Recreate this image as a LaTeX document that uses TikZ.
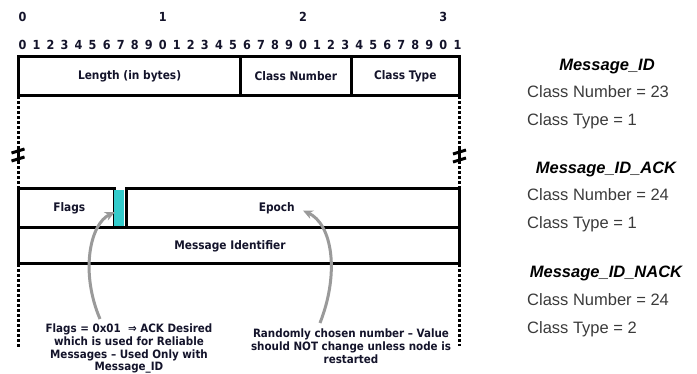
\documentclass[tikz,border=0pt]{standalone}
\usepackage{fontspec}
\setmainfont{Liberation Sans}
\newfontfamily\fieldfont{DejaVu Sans Condensed}
\usetikzlibrary{positioning,arrows.meta}

\definecolor{fieldink}{HTML}{14142B}
\definecolor{flagcyan}{HTML}{33CCCC}
\definecolor{notegray}{HTML}{9A9A9A}
\definecolor{sideink}{HTML}{3A3A3A}

\begin{document}
\begin{tikzpicture}[x=1pt,y=-1pt]
  \tikzset{FieldStyle/.style = {
    shape         = rectangle,
    draw          = black,
    line width    = 3pt,
    inner sep     = 0pt,
    outer sep     = 0pt
    }
  }
  \tikzset{FieldLabel/.style = {
    font          = \fieldfont\bfseries\fontsize{11.8}{13}\selectfont,
    text          = fieldink,
    inner sep     = 0pt
    }
  }
  \tikzset{BitStyle/.style = {
    font          = \fieldfont\bfseries\fontsize{12.5}{14}\selectfont,
    text          = fieldink,
    inner sep     = 0pt
    }
  }
  \tikzset{NoteStyle/.style = {
    font          = \fieldfont\bfseries\fontsize{11.5}{12.6}\selectfont,
    text          = fieldink,
    align         = center,
    inner sep     = 0pt,
    anchor        = north
    }
  }
  \tikzset{NoteArrow/.style = {
    draw          = notegray,
    line width    = 3pt,
    -{Stealth[length=10pt,width=9pt]}
    }
  }
  \tikzset{DotStyle/.style = {
    draw          = black,
    line width    = 3pt,
    dash pattern  = on 3pt off 2pt
    }
  }
  \tikzset{BreakStyle/.style = {
    draw          = black,
    line width    = 3pt
    }
  }
  \tikzset{SideHead/.style = {
    font          = \bfseries\itshape\fontsize{16.5}{18}\selectfont,
    anchor        = base,
    inner sep     = 0pt
    }
  }
  \tikzset{SideText/.style = {
    font          = \fontsize{16.5}{18}\selectfont,
    text          = sideink,
    anchor        = base west,
    inner sep     = 0pt
    }
  }

  \useasboundingbox (0,0) rectangle (697,374);

  % bit ruler
  \foreach \t in {0,1,2,3}
    \node[BitStyle] (dec\t) at ({22.5+140.3*\t},17) {\t};
  \foreach \i in {0,...,31} {
    \pgfmathtruncatemacro\d{mod(\i,10)}
    \node[BitStyle] (bit\i) at ({22.5+14.03*\i},45) {\d};
  }

  % header word
  \node[FieldStyle, minimum width=222.2pt, minimum height=39pt] (len)   at (129.6,76.5) {};
  \node[FieldStyle, minimum width=110.3pt, minimum height=39pt] (cnum)  at (295.85,76.5) {};
  \node[FieldStyle, minimum width=108.5pt, minimum height=39pt] (ctype) at (405.25,76.5) {};
  \node[FieldLabel] (lentxt)   at (len)   {Length (in bytes)};
  \node[FieldLabel] (cnumtxt)  at (cnum)  {Class Number};
  \node[FieldLabel] (ctypetxt) at (ctype) {Class Type};

  % message id body
  \node[FieldStyle, minimum width=95.5pt,  minimum height=39pt] (flags)   at (66.25,208.5) {};
  \node[FieldStyle, draw=none, fill=flagcyan, minimum width=10pt, minimum height=36pt] (flagbit) at (119,208.5) {};
  \node[FieldStyle, minimum width=333.5pt, minimum height=39pt] (epoch)   at (292.75,208.5) {};
  \node[FieldStyle, minimum width=441pt,   minimum height=36pt] (msgid)   at (239,246) {};
  \draw[line width=3pt] (flags.north west) -- (flags.south west);
  \node[FieldLabel, xshift=3pt]   (flagstxt) at (flags) {Flags};
  \node[FieldLabel, xshift=-16pt] (epochtxt) at (epoch) {Epoch};
  \node[FieldLabel, xshift=-9pt]  (msgidtxt) at (msgid) {Message Identifier};

  % dotted sides and breaks
  \draw[DotStyle] (len.south west) -- (flags.north west);
  \draw[DotStyle] (ctype.south east) -- (epoch.north east);
  \draw[DotStyle] (msgid.south west) -- ++(0,84);
  \draw[DotStyle] (msgid.south east) -- ++(0,82);
  \foreach \bx/\by in {18/155,459.5/156} {
    \draw[BreakStyle] (\bx,{\by-7}) -- (\bx,{\by+7});
    \draw[BreakStyle] ({\bx-6.5},{\by-2}) -- ({\bx+6.5},{\by-6});
    \draw[BreakStyle] ({\bx-6.5},{\by+6}) -- ({\bx+6.5},{\by+2});
  }

  % notes
  \node[NoteStyle] (flagnote)  at (129,324) {Flags = 0x01\ \ ⇒ ACK Desired\\which is used for Reliable\\Messages – Used Only with\\Message\_ID};
  \node[NoteStyle] (epochnote) at (351,329) {Randomly chosen number – Value\\should NOT change unless node is\\restarted};
  \draw[NoteArrow] ([shift={(-29pt,5pt)}]flagnote.north) .. controls (80,272) and (90,224) .. ([shift={(-4pt,-3.5pt)}]flagbit.center);
  \draw[NoteArrow] ([shift={(-31pt,6pt)}]epochnote.north) .. controls (340,272) and (332,224) .. ([shift={(8pt,-2pt)}]epochtxt.east);

  % class values
  \node[SideHead] (idhead)   at (607,71)  {Message\_ID};
  \node[SideText] (idnum)    at (527,98)  {Class Number = 23};
  \node[SideText] (idtype)   at (527,126) {Class Type = 1};
  \node[SideHead] (ackhead)  at (606,174) {Message\_ID\_ACK};
  \node[SideText] (acknum)   at (527,201) {Class Number = 24};
  \node[SideText] (acktype)  at (527,229) {Class Type = 1};
  \node[SideHead] (nackhead) at (606,278) {Message\_ID\_NACK};
  \node[SideText] (nacknum)  at (527,306) {Class Number = 24};
  \node[SideText] (nacktype) at (527,334) {Class Type = 2};

\end{tikzpicture}
\end{document}
